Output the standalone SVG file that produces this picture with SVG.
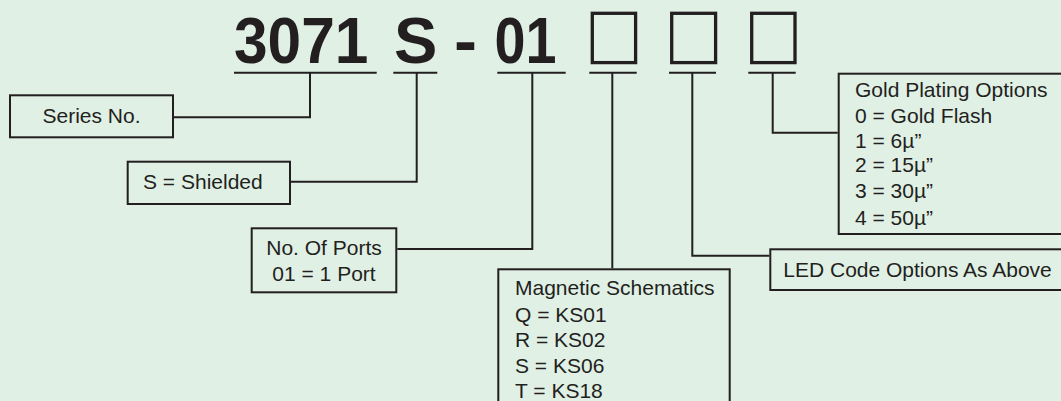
<svg xmlns="http://www.w3.org/2000/svg" width="1061" height="401" viewBox="0 0 1061 401">
<style>
.bg{fill:#e0f0e5}
.box{fill:none;stroke:#231f20;stroke-width:2}
.ln{fill:none;stroke:#231f20;stroke-width:2}
.t{font-family:"Liberation Sans",Arial,sans-serif;font-size:21px;fill:#231f20}
.big{font-family:"Liberation Sans",Arial,sans-serif;font-size:65px;font-weight:bold;fill:#231f20}
.sq{fill:none;stroke:#231f20;stroke-width:3.3}
</style>
<rect class="bg" x="0" y="0" width="1061" height="401"/>
<g id="title">
<text class="big" x="234" y="63.3" textLength="134.5" lengthAdjust="spacingAndGlyphs">3071</text>
<text class="big" x="394" y="63.3">S</text>
<text class="big" x="454" y="63.3" textLength="23" lengthAdjust="spacingAndGlyphs">-</text>
<text class="big" x="494.5" y="63.3" textLength="62" lengthAdjust="spacingAndGlyphs">01</text>
<rect class="sq" x="592.3" y="13.3" width="43.3" height="49.3"/>
<rect class="sq" x="671.7" y="13.3" width="43.9" height="49.3"/>
<rect class="sq" x="751.7" y="13.3" width="43.3" height="49.3"/>
</g>
<g id="connectors">
<path class="ln" d="M234 72.7H376.7M393.3 72.7H437.3M497.3 72.7H565.7M589.3 72.7H636.7M669 72.7H716M748.3 72.7H795.7"/>
<path class="ln" d="M310 72.7V117.3H174"/>
<path class="ln" d="M416.7 72.7V181.7H291"/>
<path class="ln" d="M532.3 72.7V249H397.3"/>
<path class="ln" d="M612.3 72.7V268.3"/>
<path class="ln" d="M692.3 72.7V255.7H769.3"/>
<path class="ln" d="M772.7 72.7V132.7H837.7"/>
</g>
<g id="series">
<rect class="box" x="10" y="95.3" width="163" height="42"/>
<text class="t" x="91.5" y="123.3" text-anchor="middle">Series No.</text>
</g>
<g id="shielded">
<rect class="box" x="127.7" y="161.7" width="162.3" height="42.3"/>
<text class="t" x="143" y="189.3">S = Shielded</text>
</g>
<g id="ports">
<rect class="box" x="251.7" y="228.3" width="144.6" height="64"/>
<text class="t" x="324" y="255" text-anchor="middle">No. Of Ports</text>
<text class="t" x="324" y="281" text-anchor="middle">01 = 1 Port</text>
</g>
<g id="magnetic">
<rect class="box" x="498.3" y="269.3" width="231.4" height="150"/>
<text class="t" x="515" y="295">Magnetic Schematics</text>
<text class="t" x="515" y="321.7">Q = KS01</text>
<text class="t" x="515" y="346.7">R = KS02</text>
<text class="t" x="515" y="372.7">S = KS06</text>
<text class="t" x="515" y="398.3">T = KS18</text>
</g>
<g id="led">
<rect class="box" x="770.3" y="249.3" width="300" height="40.7"/>
<text class="t" x="783.3" y="276.7">LED Code Options As Above</text>
</g>
<g id="gold">
<rect class="box" x="838.7" y="73.7" width="240" height="160.3"/>
<text class="t" x="855" y="96.7">Gold Plating Options</text>
<text class="t" x="855" y="123.3">0 = Gold Flash</text>
<text class="t" x="855" y="147.7">1 = 6µ”</text>
<text class="t" x="855" y="172.3">2 = 15µ”</text>
<text class="t" x="855" y="198.3">3 = 30µ”</text>
<text class="t" x="855" y="225">4 = 50µ”</text>
</g>
</svg>
